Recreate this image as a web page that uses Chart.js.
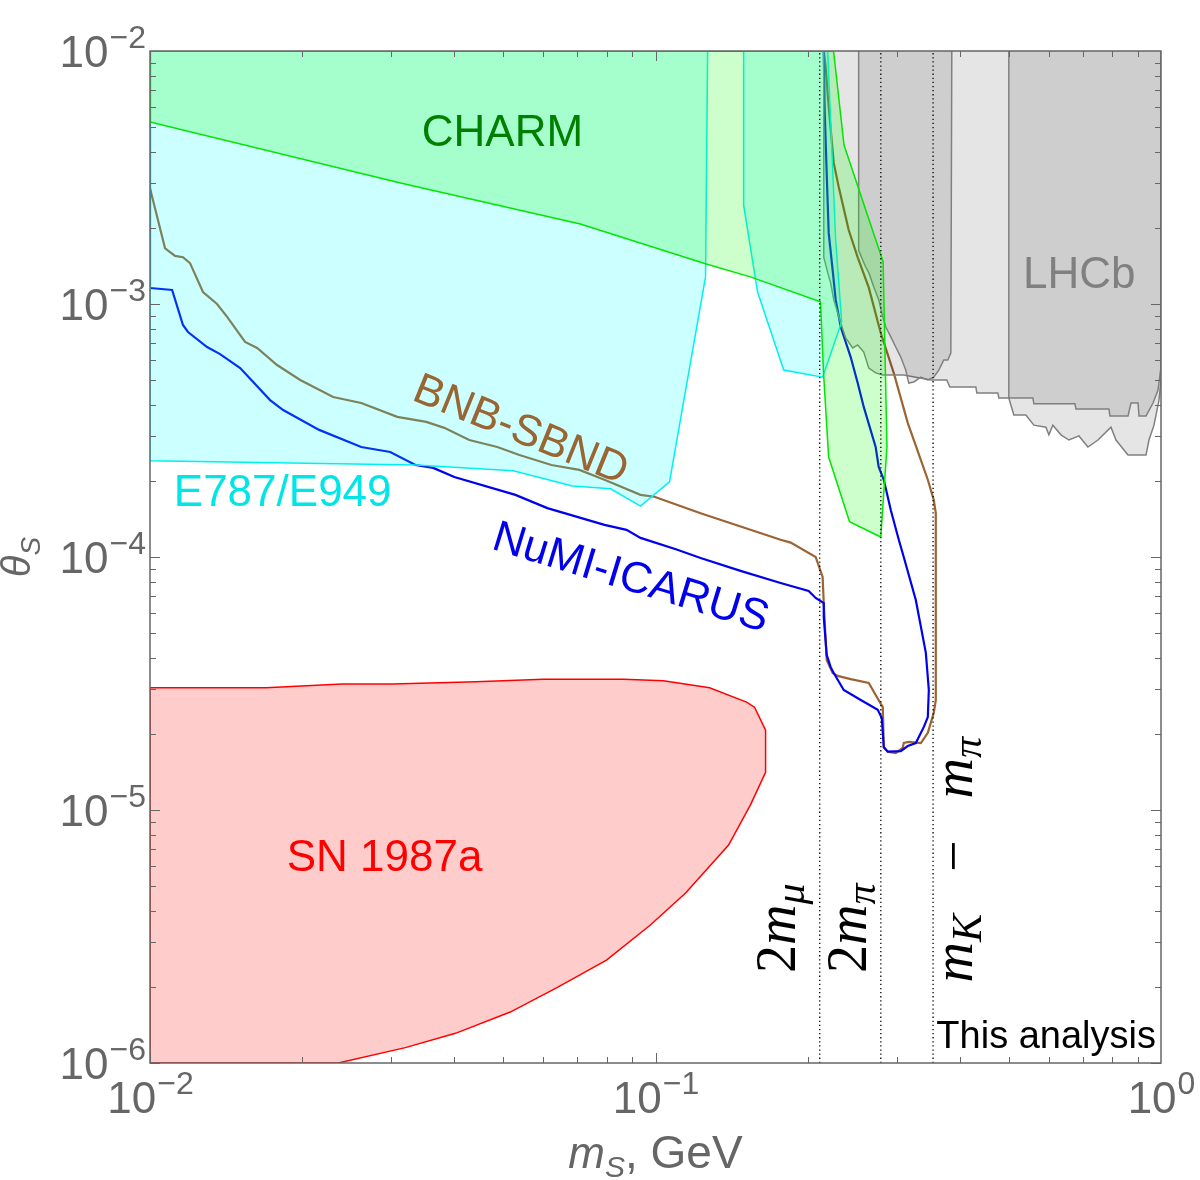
<!DOCTYPE html>
<html>
<head>
<meta charset="utf-8">
<script src="https://cdn.jsdelivr.net/npm/chart.js@4.4.1/dist/chart.umd.min.js"></script>
<style>
  body { margin: 0; background: #fff; }
  canvas { display: block; }
</style>
</head>
<body>
<canvas id="graph" width="1200" height="1180"></canvas>
<script>
// axes
const xMin = 0.01, xMax = 1;
const yMin = 1e-6, yMax = 1e-2;
const xTicks = [0.01, 0.1, 1];
const xTickLabels = ["10^−2", "10^−1", "10^0"];
const yTicks = [1e-2, 1e-3, 1e-4, 1e-5, 1e-6];
const yTickLabels = ["10^−2", "10^−3", "10^−4", "10^−5", "10^−6"];

// 2m_mu, 2m_pi, m_K - m_pi (GeV)
const thresholds = [0.2113, 0.2791, 0.3541];

// CHARM excluded region
const charmX = [0.01, 0.225, 0.236, 0.282, 0.287, 0.279, 0.242, 0.220, 0.215, 0.212, 0.154, 0.126, 0.071, 0.0313, 0.01, 0.01];
const charmY = [1e-2, 1e-2, 4.25e-3, 1.47e-3, 2.72e-4, 1.2e-4, 1.38e-4, 2.49e-4, 5.34e-4, 1.02e-3, 1.28e-3, 1.44e-3, 2.07e-3, 3.01e-3, 5.24e-3, 1e-2];

// E787/E949, two pieces (gap around the pi0 mass)
const e787aX = [0.01, 0.1268, 0.1256, 0.1066, 0.0934, 0.0815, 0.0685, 0.0523, 0.0335, 0.01, 0.01];
const e787aY = [1e-2, 1e-2, 1.28e-3, 1.98e-4, 1.59e-4, 1.86e-4, 1.91e-4, 2.19e-4, 2.31e-4, 2.40e-4, 1e-2];
const e787bX = [0.1494, 0.1494, 0.1592, 0.1793, 0.2141, 0.2335, 0.2272, 0.2191, 0.1494];
const e787bY = [1e-2, 2.46e-3, 1.115e-3, 5.48e-4, 5.14e-4, 8.49e-4, 1.79e-3, 1e-2, 1e-2];

// SN 1987a
const snX = [0.01, 0.01697, 0.0240, 0.03014, 0.0442, 0.0600, 0.0864, 0.1037, 0.1279, 0.1514, 0.1570, 0.1651, 0.1651, 0.1542, 0.1395, 0.1147, 0.0977, 0.0800, 0.0637, 0.0516, 0.0402, 0.0320, 0.02357, 0.01, 0.01];
const snY = [3.04e-5, 3.04e-5, 3.15e-5, 3.15e-5, 3.21e-5, 3.29e-5, 3.29e-5, 3.24e-5, 3.04e-5, 2.67e-5, 2.55e-5, 2.07e-5, 1.41e-5, 1.05e-5, 7.27e-6, 4.70e-6, 3.51e-6, 2.55e-6, 1.98e-6, 1.59e-6, 1.31e-6, 1.15e-6, 1e-6, 1e-6, 3.04e-5];

// LHCb (outer region and two inner pieces)
const lhcbX = [0.2152, 0.2152, 0.2191, 0.2221, 0.2252, 0.2325, 0.2378, 0.2455, 0.2512, 0.2582, 0.2642, 0.2726, 0.2816, 0.3098, 0.3504, 0.3769, 0.3822, 0.4302, 0.4322, 0.4756, 0.4778, 0.5000, 0.5047, 0.5116, 0.5404, 0.5604, 0.5920, 0.6001, 0.6111, 0.6339, 0.6575, 0.6881, 0.7169, 0.7504, 0.7962, 0.8146, 0.8448, 0.8605, 0.9340, 0.9467, 0.9685, 0.9909, 1, 1];
const lhcbY = [1e-2, 1.53e-3, 1.33e-3, 1.21e-3, 1.04e-3, 8.41e-4, 7.34e-4, 6.70e-4, 6.89e-4, 6.46e-4, 5.58e-4, 5.34e-4, 5.24e-4, 5.24e-4, 5.01e-4, 5.01e-4, 4.70e-4, 4.70e-4, 4.45e-4, 4.45e-4, 4.25e-4, 4.25e-4, 3.99e-4, 3.64e-4, 3.64e-4, 3.32e-4, 3.26e-4, 3.04e-4, 3.32e-4, 3.04e-4, 2.90e-4, 3.01e-4, 2.72e-4, 2.90e-4, 3.26e-4, 2.90e-4, 2.65e-4, 2.53e-4, 2.53e-4, 2.90e-4, 3.32e-4, 4.17e-4, 5.01e-4, 1e-2];
const lhcb1X = [0.2523, 0.2523, 0.2570, 0.2605, 0.2642, 0.2702, 0.2764, 0.2816, 0.2855, 0.2921, 0.2987, 0.3056, 0.3126, 0.3170, 0.3243, 0.3349, 0.3457, 0.3552, 0.3634, 0.3718, 0.3786, 0.3839, 0.3856];
const lhcb1Y = [1e-2, 1.63e-3, 1.49e-3, 1.40e-3, 1.33e-3, 1.17e-3, 1.04e-3, 8.89e-4, 8.11e-4, 7.41e-4, 6.76e-4, 6.17e-4, 5.48e-4, 4.87e-4, 4.92e-4, 5.14e-4, 5.01e-4, 5.14e-4, 5.48e-4, 6.01e-4, 6.01e-4, 6.40e-4, 1e-2];
const lhcb2X = [0.5000, 0.5000, 0.5579, 0.5604, 0.6757, 0.6788, 0.7889, 0.7925, 0.8605, 0.8722, 0.9006, 0.9047, 0.9340, 0.9643, 0.9865, 1, 1];
const lhcb2Y = [1e-2, 4.25e-4, 4.25e-4, 4.03e-4, 4.03e-4, 3.85e-4, 3.85e-4, 3.61e-4, 3.61e-4, 4.06e-4, 4.06e-4, 3.61e-4, 3.61e-4, 4.06e-4, 4.57e-4, 5.64e-4, 1e-2];

// NuMI-ICARUS sensitivity contour
const numiX = [0.01, 0.01, 0.01106, 0.01162, 0.01189, 0.01297, 0.01376, 0.01508, 0.01728, 0.01834, 0.02161, 0.02617, 0.02987, 0.0335, 0.03634, 0.0400, 0.05283, 0.0611, 0.07925, 0.08763, 0.0934, 0.1101, 0.1228, 0.1473, 0.1768, 0.2009, 0.2074, 0.2152, 0.2152, 0.2181, 0.2221, 0.2252, 0.2357, 0.2547, 0.2752, 0.2803, 0.2829, 0.2881, 0.3056, 0.3155, 0.3273, 0.3395, 0.3457, 0.3473, 0.3426, 0.3273, 0.3098, 0.3029, 0.2921, 0.2829, 0.2764, 0.2726, 0.2582, 0.2512, 0.2433, 0.2325, 0.2272, 0.2241, 0.2201, 0.2181, 0.2160, 0.2152, 0.01];
const numiY = [1e-2, 1.157e-3, 1.136e-3, 8.26e-4, 7.75e-4, 6.76e-4, 6.34e-4, 5.58e-4, 4.17e-4, 3.81e-4, 3.18e-4, 2.72e-4, 2.60e-4, 2.31e-4, 2.25e-4, 2.07e-4, 1.76e-4, 1.56e-4, 1.34e-4, 1.28e-4, 1.19e-4, 1.07e-4, 9.91e-5, 8.81e-5, 7.89e-5, 7.34e-5, 6.89e-5, 6.58e-5, 5.79e-5, 4.10e-5, 3.67e-5, 3.48e-5, 2.98e-5, 2.72e-5, 2.49e-5, 2.31e-5, 1.77e-5, 1.70e-5, 1.71e-5, 1.79e-5, 1.84e-5, 2.13e-5, 2.33e-5, 2.98e-5, 4.18e-5, 6.76e-5, 1.0e-4, 1.17e-4, 1.53e-4, 2.02e-4, 2.27e-4, 2.72e-4, 3.92e-4, 4.87e-4, 6.17e-4, 8.11e-4, 1.04e-3, 1.36e-3, 1.91e-3, 3.29e-3, 6.01e-3, 1e-2, 1e-2];

// BNB-SBND sensitivity contour
const bnbX = [0.01, 0.01071, 0.01121, 0.01162, 0.0120, 0.01273, 0.01357, 0.01421, 0.01542, 0.01629, 0.01784, 0.01982, 0.02303, 0.02617, 0.03084, 0.0352, 0.03821, 0.04281, 0.04865, 0.0538, 0.06223, 0.0707, 0.07925, 0.0934, 0.0995, 0.1228, 0.1768, 0.1851, 0.2074, 0.2141, 0.2152, 0.2181, 0.2241, 0.2293, 0.2433, 0.2642, 0.2726, 0.2816, 0.2829, 0.2881, 0.2987, 0.3084, 0.3098, 0.3170, 0.3349, 0.3457, 0.3552, 0.3585, 0.3585, 0.3552, 0.3457, 0.3155, 0.2960, 0.2790, 0.2642, 0.2512, 0.2411, 0.2304, 0.2252, 0.2201, 0.2171, 0.2152];
const bnbY = [2.87e-3, 1.66e-3, 1.55e-3, 1.53e-3, 1.45e-3, 1.115e-3, 1.0e-3, 8.89e-4, 7.08e-4, 6.70e-4, 5.74e-4, 5.01e-4, 4.29e-4, 4.06e-4, 3.58e-4, 3.42e-4, 3.24e-4, 2.90e-4, 2.72e-4, 2.53e-4, 2.31e-4, 2.21e-4, 2.02e-4, 1.76e-4, 1.73e-4, 1.49e-4, 1.17e-4, 1.14e-4, 1.0e-4, 8.34e-5, 6.58e-5, 3.92e-5, 3.48e-5, 3.39e-5, 3.29e-5, 3.18e-5, 2.85e-5, 2.55e-5, 1.77e-5, 1.70e-5, 1.68e-5, 1.76e-5, 1.84e-5, 1.86e-5, 1.84e-5, 2.02e-5, 2.42e-5, 2.72e-5, 1.49e-4, 1.68e-4, 2.02e-4, 3.39e-4, 5.34e-4, 7.68e-4, 1.16e-3, 1.53e-3, 1.96e-3, 2.90e-3, 3.61e-3, 6.01e-3, 8.64e-3, 1e-2];

// region labels (anchor in data units)
const labelText = ["CHARM", "LHCb", "BNB-SBND", "E787/E949", "NuMI-ICARUS", "SN 1987a"];
const labelX = [0.0498, 0.689, 0.0544, 0.0183, 0.0897, 0.0291];
const labelY = [4.87e-3, 1.338e-3, 3.26e-4, 1.84e-4, 8.49e-5, 6.64e-6];
const labelAngle = [0, 0, 22, 0, 17, 0];
const labelColor = ["#007f00", "#808080", "#996633", "#00e5e5", "#0000ee", "#ff0000"];

// threshold labels: [text, style] runs, r = roman, i = italic, s = subscript
const mathRuns = [
  [["2", "r"], ["m", "i"], ["μ", "s"]],
  [["2", "r"], ["m", "i"], ["π", "s"]],
  [["m", "i"], ["K", "s"], ["   −   ", "r"], ["m", "i"], ["π", "s"]]
];
const mathX = [0.1891, 0.2612, 0.4231];
const mathY = [2.27e-6, 2.27e-6, 2.08e-6];
const noteText = "This analysis";

const SANS = "'Liberation Sans', Arial, sans-serif";
const SERIF = "'Liberation Serif', 'Times New Roman', serif";

function pts(xs, ys) {
  return xs.map((x, i) => ({ x: x, y: ys[i] }));
}

function region(xs, ys, line, fill, width) {
  return {
    data: pts(xs, ys),
    showLine: true,
    borderColor: line,
    backgroundColor: fill || "transparent",
    borderWidth: width || 1.5,
    pointRadius: 0,
    tension: 0,
    fill: fill ? "shape" : false
  };
}

const datasets = [];
thresholds.forEach((t) => {
  datasets.push({
    data: [{ x: t, y: yMin }, { x: t, y: yMax }],
    showLine: true,
    borderColor: "#000",
    borderWidth: 1.3,
    borderDash: [1.3, 2.8],
    pointRadius: 0,
    fill: false
  });
});
datasets.push(region(charmX, charmY, "#00e600", "rgba(0,255,0,0.2)"));
datasets.push(region(e787aX, e787aY, "#00f0f0", "rgba(0,255,255,0.2)"));
datasets.push(region(e787bX, e787bY, "#00f0f0", "rgba(0,255,255,0.2)"));
datasets.push(region(snX, snY, "#ff0000", "rgba(255,0,0,0.2)"));
datasets.push(region(lhcb1X, lhcb1Y, "#808080", "rgba(0,0,0,0.1)"));
datasets.push(region(lhcb2X, lhcb2Y, "#808080", "rgba(0,0,0,0.1)"));
datasets.push(region(lhcbX, lhcbY, "#808080", "rgba(0,0,0,0.1)"));
datasets.push(region(numiX, numiY, "#0000f0", null, 2.2));
datasets.push(region(bnbX, bnbY, "#9b6432", null, 2.2));

function drawPow(ctx, label, x, y, align) {
  const parts = label.split("^");
  ctx.font = "44px " + SANS;
  const wb = ctx.measureText(parts[0]).width;
  ctx.font = "32px " + SANS;
  const wp = ctx.measureText(parts[1]).width;
  const x0 = align === "right" ? x - wb - wp : x - (wb + wp) / 2;
  ctx.font = "44px " + SANS;
  ctx.fillText(parts[0], x0, y);
  ctx.font = "32px " + SANS;
  ctx.fillText(parts[1], x0 + wb + 1, y - 19);
}

function drawRuns(ctx, runs) {
  let pos = 0;
  runs.forEach((r) => {
    ctx.font = r[1];
    ctx.fillText(r[0], pos, r[2]);
    pos += ctx.measureText(r[0]).width;
  });
  return pos;
}

function runsWidth(ctx, runs) {
  let w = 0;
  runs.forEach((r) => {
    ctx.font = r[1];
    w += ctx.measureText(r[0]).width;
  });
  return w;
}

const decor = {
  id: "decor",
  afterDatasetsDraw(chart) {
    const ctx = chart.ctx;
    const xs = chart.scales.x, ys = chart.scales.y, a = chart.chartArea;
    ctx.save();
    ctx.textAlign = "center";
    ctx.textBaseline = "alphabetic";
    ctx.font = "44px " + SANS;
    labelText.forEach((t, i) => {
      ctx.save();
      ctx.translate(xs.getPixelForValue(labelX[i]), ys.getPixelForValue(labelY[i]));
      ctx.rotate(labelAngle[i] * Math.PI / 180);
      ctx.fillStyle = labelColor[i];
      ctx.fillText(t, 0, 16);
      ctx.restore();
    });

    ctx.fillStyle = "#000";
    ctx.textAlign = "left";
    mathRuns.forEach((runs, i) => {
      ctx.save();
      ctx.translate(xs.getPixelForValue(mathX[i]), ys.getPixelForValue(mathY[i]));
      ctx.rotate(-Math.PI / 2);
      drawRuns(ctx, runs.map((r) => {
        if (r[1] === "r") return [r[0], "56px " + SERIF, 0];
        if (r[1] === "i") return [r[0], "italic 56px " + SERIF, 0];
        return [r[0], "italic 42px " + SERIF, 9];
      }));
      ctx.restore();
    });

    ctx.font = "38px " + SANS;
    ctx.textAlign = "right";
    ctx.fillText(noteText, a.right - 5, a.bottom - 15);
    ctx.restore();
  },
  afterDraw(chart) {
    const ctx = chart.ctx;
    const xs = chart.scales.x, ys = chart.scales.y, a = chart.chartArea;
    ctx.save();
    ctx.strokeStyle = "#666";
    ctx.fillStyle = "#666";
    ctx.lineWidth = 1;
    ctx.beginPath();
    for (let e = -2; e < 0; e++) {
      for (let m = 1; m <= 9; m++) {
        const px = Math.round(xs.getPixelForValue(m * Math.pow(10, e))) + 0.5;
        const len = m === 1 ? 10 : 6;
        ctx.moveTo(px, a.bottom); ctx.lineTo(px, a.bottom - len);
        ctx.moveTo(px, a.top); ctx.lineTo(px, a.top + len);
      }
    }
    for (let e = -6; e < -2; e++) {
      for (let m = 1; m <= 9; m++) {
        const py = Math.round(ys.getPixelForValue(m * Math.pow(10, e))) + 0.5;
        const len = m === 1 ? 10 : 6;
        ctx.moveTo(a.left, py); ctx.lineTo(a.left + len, py);
        ctx.moveTo(a.right, py); ctx.lineTo(a.right - len, py);
      }
    }
    ctx.stroke();
    ctx.lineWidth = 1.5;
    ctx.strokeRect(a.left, a.top, a.right - a.left, a.bottom - a.top);

    ctx.textAlign = "left";
    ctx.textBaseline = "alphabetic";
    yTicks.forEach((v, i) => {
      drawPow(ctx, yTickLabels[i], a.left - 5, ys.getPixelForValue(v) + 16, "right");
    });
    xTicks.forEach((v, i) => {
      drawPow(ctx, xTickLabels[i], xs.getPixelForValue(v), a.bottom + 50, "center");
    });

    // x title
    const xt = [["m", "italic 44px " + SANS, 0], ["S", "italic 30px " + SANS, 9], [", GeV", "46px " + SANS, 0]];
    const wx = runsWidth(ctx, xt);
    ctx.save();
    ctx.translate((a.left + a.right) / 2 - wx / 2, 1168);
    drawRuns(ctx, xt);
    ctx.restore();

    // y title
    const yt = [["θ", "italic 40px " + SANS, 0], ["S", "italic 28px " + SANS, 10]];
    const wy = runsWidth(ctx, yt);
    ctx.save();
    ctx.translate(30, (a.top + a.bottom) / 2 + wy / 2);
    ctx.rotate(-Math.PI / 2);
    drawRuns(ctx, yt);
    ctx.restore();
    ctx.restore();
  }
};

new Chart(document.getElementById("graph").getContext("2d"), {
  type: "scatter",
  data: { datasets: datasets },
  options: {
    responsive: false,
    animation: false,
    devicePixelRatio: 1,
    events: [],
    layout: { padding: { top: 51, right: 39, left: 0, bottom: 0 } },
    plugins: { legend: { display: false }, tooltip: { enabled: false } },
    scales: {
      x: {
        type: "logarithmic",
        min: xMin,
        max: xMax,
        ticks: { display: false },
        grid: { display: false },
        border: { display: false },
        afterFit: (s) => { s.height = 117; }
      },
      y: {
        type: "logarithmic",
        min: yMin,
        max: yMax,
        ticks: { display: false },
        grid: { display: false },
        border: { display: false },
        afterFit: (s) => { s.width = 150; }
      }
    }
  },
  plugins: [decor]
});
</script>
</body>
</html>
